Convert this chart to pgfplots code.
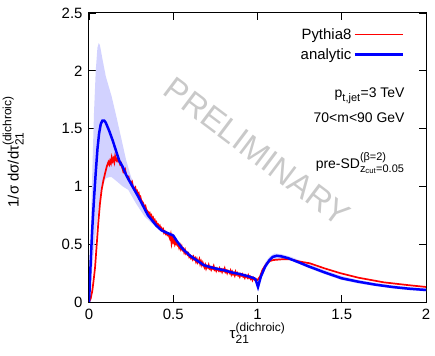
\documentclass[border=0pt]{standalone}
\usepackage{pgfplots}
\pgfplotsset{compat=1.18}
\usepackage{fontspec}
\setmainfont{Liberation Sans}
\definecolor{bandblue}{RGB}{210,210,255}
\newcommand\sps[3]{\ensuremath{^{\hbox{\fontsize{#3}{#3}\selectfont #1}}_{\hbox{\fontsize{#3}{#3}\selectfont #2}}}}
\begin{document}
\begin{tikzpicture}
\begin{axis}[
  at={(0,0)}, anchor=south west,
  scale only axis, width=337bp, height=289bp,
  xmin=0, xmax=2, ymin=0, ymax=2.5,
  xtick={0,0.5,1,1.5,2}, ytick={0,0.5,1,1.5,2,2.5},
  tick align=inside, major tick length=7bp,
  axis line style={line width=1bp}, every tick/.style={black, line width=0.8bp},
  /pgf/number format/assume math mode=true,
  tick label style={font=\fontsize{15}{18}\selectfont},
  xticklabel style={yshift=-4bp},
  yticklabel style={xshift=-3bp},
  xlabel={τ\sps{(dichroic)}{21}{12}},
  ylabel={1/σ dσ/dτ\sps{(dichroic)}{21}{12}},
  label style={font=\fontsize{15}{18}\selectfont},
  xlabel style={at={(axis description cs:0.5,-0.06)}, anchor=north},
  ylabel style={at={(axis description cs:-0.225,0.52)}, anchor=center, rotate=0},
  legend plot pos=right, legend cell align=right,
  legend style={draw=none, fill=none, at={(rel axis cs:0.935,0.955)}, anchor=north east,
    font=\fontsize{15}{18}\selectfont, row sep=4bp, inner sep=0pt},
  legend image code/.code={\draw[#1] (0bp,0bp) -- (48bp,0bp);},
]
\node[text=gray!42, rotate=-37, font=\fontsize{33}{33}\selectfont] at (axis cs:1.0,1.30) {PRELIMINARY};
% uncertainty band (upper edge, then lower edge reversed)
\addplot[draw=none, fill=bandblue, forget plot] coordinates {
(0,0) (0.01,0.6) (0.02,1.15) (0.03,1.65) (0.04,2.0) (0.05,2.2) (0.058,2.24) (0.065,2.22)
(0.08,2.1) (0.10,1.95) (0.134,1.78) (0.16,1.62) (0.194,1.40) (0.22,1.23) (0.25,1.08)
(0.28,0.97) (0.30,0.91) (0.35,0.76) (0.40,0.67) (0.45,0.615) (0.50,0.59) (0.55,0.48)
(0.60,0.41) (0.70,0.32) (0.80,0.285) (0.90,0.25) (0.98,0.215) (1.0,0.15) (1.02,0.25)
(1.045,0.34) (1.07,0.39) (1.10,0.42) (1.14,0.415) (1.2,0.39) (1.3,0.33) (1.4,0.275)
(1.5,0.225) (1.6,0.19) (1.7,0.165) (1.8,0.145) (1.9,0.13) (2.0,0.118)
(2.0,0.092) (1.9,0.102) (1.8,0.118) (1.7,0.138) (1.6,0.16) (1.5,0.19) (1.4,0.24)
(1.3,0.295) (1.2,0.36) (1.14,0.375) (1.1,0.37) (1.07,0.34) (1.045,0.28) (1.02,0.2)
(1.0,0.115) (0.98,0.195) (0.9,0.23) (0.8,0.265) (0.7,0.30) (0.6,0.39) (0.55,0.46)
(0.5,0.565) (0.47,0.59) (0.43,0.63) (0.38,0.67) (0.33,0.74) (0.28,0.85) (0.233,0.97)
(0.2,1.0) (0.16,1.05) (0.134,1.08) (0.12,1.08) (0.10,1.07) (0.08,1.0) (0.06,0.85)
(0.04,0.6) (0.02,0.3) (0,0)
} -- cycle;
% Pythia8
\addplot[red, line width=1.7bp] coordinates {
(0,0) (0.01,0.03) (0.02,0.10) (0.03,0.22) (0.036,0.30) (0.045,0.48) (0.055,0.68)
(0.065,0.85) (0.075,0.97) (0.085,1.05) (0.095,1.11) (0.105,1.17) (0.115,1.21)
(0.12,1.19) (0.125,1.22) (0.13,1.20) (0.135,1.25) (0.14,1.22) (0.145,1.24) (0.15,1.21)
(0.155,1.26) (0.16,1.23) (0.165,1.22) (0.17,1.25) (0.175,1.22) (0.18,1.21) (0.185,1.19)
(0.19,1.20) (0.195,1.17) (0.20,1.15) (0.205,1.12)
(0.21,1.12) (0.215,1.14) (0.22,1.10) (0.225,1.09) (0.23,1.07) (0.235,1.08) (0.24,1.05)
(0.245,1.04) (0.25,1.03) (0.255,1.04) (0.26,1.00) (0.265,0.99) (0.27,0.98) (0.275,0.99)
(0.28,0.95) (0.285,0.96) (0.29,0.93) (0.295,0.94) (0.30,0.90) (0.305,0.91) (0.31,0.88)
(0.315,0.87) (0.32,0.86) (0.325,0.84) (0.33,0.82) (0.335,0.83) (0.34,0.80) (0.345,0.79)
(0.35,0.78) (0.355,0.76) (0.36,0.77) (0.365,0.74) (0.37,0.75) (0.375,0.72) (0.38,0.73)
(0.385,0.70) (0.39,0.71) (0.395,0.68) (0.40,0.69) (0.405,0.66) (0.41,0.67) (0.415,0.65)
(0.42,0.66) (0.425,0.63) (0.43,0.64) (0.435,0.62) (0.44,0.63) (0.445,0.60) (0.45,0.61)
(0.455,0.59) (0.46,0.60) (0.465,0.58) (0.47,0.59) (0.475,0.57) (0.48,0.55) (0.485,0.58)
(0.49,0.51) (0.495,0.55) (0.50,0.52) (0.505,0.54) (0.51,0.50) (0.515,0.52) (0.52,0.50)
(0.525,0.49) (0.53,0.50) (0.535,0.47) (0.54,0.49) (0.545,0.46) (0.55,0.48) (0.555,0.45)
(0.56,0.46) (0.565,0.43) (0.57,0.45) (0.575,0.42) (0.58,0.43) (0.585,0.41) (0.59,0.42)
(0.595,0.39) (0.60,0.40) (0.605,0.38) (0.61,0.39) (0.615,0.37) (0.62,0.39) (0.625,0.37)
(0.63,0.38) (0.635,0.35) (0.64,0.37) (0.645,0.34) (0.65,0.35) (0.655,0.37) (0.66,0.33)
(0.665,0.35) (0.67,0.32) (0.675,0.34) (0.68,0.32) (0.685,0.30) (0.69,0.32) (0.695,0.29)
(0.70,0.31) (0.705,0.30) (0.71,0.32) (0.715,0.29) (0.72,0.30) (0.725,0.28) (0.73,0.30)
(0.735,0.29) (0.74,0.31) (0.745,0.28) (0.75,0.29) (0.755,0.27) (0.76,0.29) (0.765,0.28)
(0.77,0.27) (0.775,0.29) (0.78,0.27) (0.785,0.28) (0.79,0.26) (0.795,0.28) (0.80,0.27)
(0.805,0.29) (0.81,0.26) (0.815,0.27) (0.82,0.25) (0.825,0.27) (0.83,0.26) (0.835,0.25)
(0.84,0.27) (0.845,0.24) (0.85,0.26) (0.855,0.24) (0.86,0.25) (0.865,0.23) (0.87,0.26)
(0.875,0.24) (0.88,0.25) (0.885,0.23) (0.89,0.24) (0.895,0.22) (0.90,0.24) (0.905,0.23)
(0.91,0.24) (0.915,0.22) (0.92,0.23) (0.925,0.21) (0.93,0.23) (0.935,0.22) (0.94,0.21)
(0.945,0.23) (0.95,0.21) (0.955,0.22) (0.96,0.20) (0.965,0.21) (0.97,0.19) (0.975,0.21)
(0.98,0.20) (0.985,0.19) (0.99,0.20) (0.995,0.19) (1.00,0.19)
(1.015,0.22) (1.03,0.28) (1.055,0.335) (1.075,0.355) (1.094,0.363) (1.15,0.37)
(1.193,0.37) (1.25,0.35) (1.31,0.335) (1.4,0.29) (1.49,0.25) (1.6,0.21) (1.75,0.17)
(1.9,0.145) (2.0,0.13)
};
\addlegendentry{Pythia8}
% analytic
\addplot[blue, line width=2.5bp] coordinates {
(0,0) (0.005,0.15) (0.01,0.35) (0.02,0.65) (0.03,0.9) (0.04,1.12) (0.05,1.32)
(0.06,1.46) (0.07,1.54) (0.08,1.57) (0.09,1.57) (0.10,1.55) (0.12,1.48) (0.14,1.40)
(0.16,1.31) (0.18,1.22) (0.20,1.17) (0.22,1.10) (0.25,1.02) (0.293,0.91) (0.35,0.75)
(0.40,0.66) (0.43,0.62) (0.46,0.60) (0.50,0.575) (0.52,0.53) (0.55,0.47) (0.57,0.44)
(0.60,0.40) (0.65,0.35) (0.68,0.32) (0.70,0.31) (0.75,0.29) (0.80,0.275) (0.85,0.255)
(0.90,0.24) (0.95,0.22) (0.98,0.205) (0.99,0.19) (1.003,0.13) (1.02,0.22) (1.045,0.305)
(1.07,0.36) (1.09,0.39) (1.115,0.40) (1.14,0.395) (1.18,0.38) (1.25,0.34) (1.30,0.31)
(1.40,0.255) (1.50,0.205) (1.60,0.175) (1.70,0.15) (1.80,0.13) (1.90,0.115) (2.00,0.104)
};
\addlegendentry{analytic}
\node[anchor=base east, font=\fontsize{14}{16}\selectfont] at (axis cs:1.893,1.773) {p\sps{}{t,jet}{11}=3 TeV};
\node[anchor=base east, font=\fontsize{14}{16}\selectfont] at (axis cs:1.893,1.551) {70<m<90 GeV};
\node[anchor=base east, font=\fontsize{14}{16}\selectfont] at (axis cs:1.893,1.159) {pre-SD\sps{(β=2)}{z\textsubscript{cut}=0.05}{11}};
\end{axis}
\pgfresetboundingbox
\path[use as bounding box] (-89bp,-54bp) rectangle (346bp,302bp);
\end{tikzpicture}
\end{document}
